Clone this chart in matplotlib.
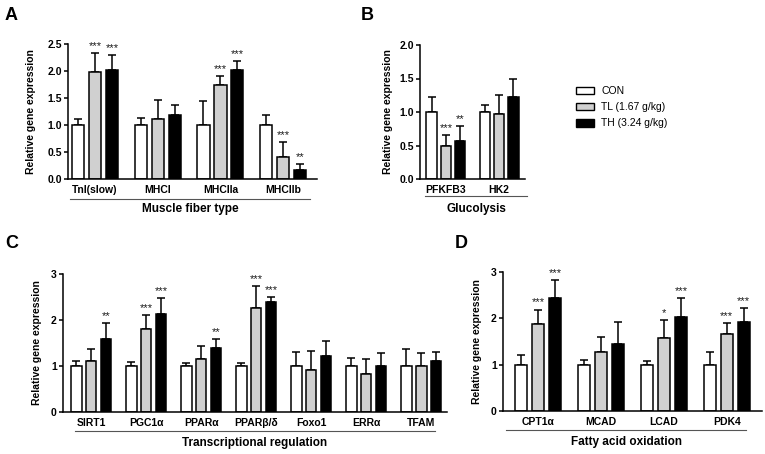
import matplotlib
matplotlib.use("Agg")
import matplotlib.pyplot as plt
from matplotlib.patches import Patch
import numpy as np

plt.rcParams['font.family'] = ['Liberation Sans', 'DejaVu Sans']

W, H = 765, 454

series_names = ["CON", "TL (1.67 g/kg)", "TH (3.24 g/kg)"]
series_colors = ["white", "#d0d0d0", "black"]

# Panel A
a_genes = ["TnI(slow)", "MHCI", "MHCIIa", "MHCIIb"]
a_con = [1.00, 1.00, 1.00, 1.00]
a_con_err = [0.12, 0.13, 0.44, 0.18]
a_tl = [1.98, 1.12, 1.75, 0.40]
a_tl_err = [0.35, 0.34, 0.15, 0.28]
a_th = [2.02, 1.19, 2.02, 0.17]
a_th_err = [0.28, 0.18, 0.16, 0.10]
a_tl_sig = ["***", "", "***", "***"]
a_th_sig = ["***", "", "***", "**"]

# Panel B
b_genes = ["PFKFB3", "HK2"]
b_con = [1.00, 1.00]
b_con_err = [0.23, 0.10]
b_tl = [0.50, 0.97]
b_tl_err = [0.15, 0.29]
b_th = [0.56, 1.23]
b_th_err = [0.23, 0.27]
b_tl_sig = ["***", ""]
b_th_sig = ["**", ""]

# Panel C
c_genes = ["SIRT1", "PGC1α", "PPARα", "PPARβ/δ", "Foxo1", "ERRα", "TFAM"]
c_con = [1.00, 1.00, 1.00, 1.00, 1.00, 1.00, 1.00]
c_con_err = [0.10, 0.09, 0.07, 0.07, 0.30, 0.18, 0.38]
c_tl = [1.11, 1.80, 1.16, 2.27, 0.92, 0.83, 0.99]
c_tl_err = [0.25, 0.31, 0.28, 0.47, 0.41, 0.32, 0.29]
c_th = [1.58, 2.13, 1.40, 2.39, 1.22, 1.00, 1.10]
c_th_err = [0.35, 0.34, 0.18, 0.10, 0.32, 0.29, 0.20]
c_tl_sig = ["", "***", "", "***", "", "", ""]
c_th_sig = ["**", "***", "**", "***", "", "", ""]

# Panel D
d_genes = ["CPT1α", "MCAD", "LCAD", "PDK4"]
d_con = [1.00, 1.00, 1.00, 1.00]
d_con_err = [0.21, 0.11, 0.07, 0.27]
d_tl = [1.87, 1.27, 1.57, 1.66]
d_tl_err = [0.32, 0.33, 0.39, 0.24]
d_th = [2.43, 1.44, 2.03, 1.92]
d_th_err = [0.40, 0.48, 0.40, 0.30]
d_tl_sig = ["***", "", "*", "***"]
d_th_sig = ["***", "", "***", "***"]

fig = plt.figure(figsize=(W / 100, H / 100), dpi=100)


def add_ax(x0, x1, y0, y1):
    return fig.add_axes([x0 / W, 1 - y1 / H, (x1 - x0) / W, (y1 - y0) / H])


def panel(ax, genes, vals, errs, sigs, ylim, yticks, yfmt, xlim, group_label,
          letter, letter_xy, ylabel_x, line_x, label_y_off=-0.18, line_y=-0.145):
    x = np.arange(len(genes))
    pitch, width = 0.27, 0.195
    for i, (v, e, col) in enumerate(zip(vals, errs, series_colors)):
        pos = x + (i - 1) * pitch
        ax.bar(pos, v, width=width, color=col, edgecolor="black", linewidth=1.1, zorder=2)
        ax.errorbar(pos, v, yerr=[np.zeros(len(v)), e], fmt="none", ecolor="black",
                    elinewidth=1.1, capsize=2.8, capthick=1.1, zorder=1)
        if sigs[i] is not None:
            for p, vv, ee, s in zip(pos, v, e, sigs[i]):
                if s:
                    ax.annotate(s, (p, vv + ee), xytext=(0, 1.5), textcoords="offset points",
                                ha="center", va="bottom", fontsize=8, color="#1a1a1a")
    ax.set_xlim(*xlim)
    ax.set_ylim(*ylim)
    ax.set_yticks(yticks)
    ax.set_yticklabels([yfmt.format(t) for t in yticks], fontsize=7.5, fontweight="bold")
    ax.set_xticks(x)
    ax.set_xticklabels(genes, fontsize=7.5, fontweight="bold")
    ax.tick_params(axis="x", length=0, pad=4)
    ax.tick_params(axis="y", length=3, width=1.1, direction="out", pad=1.5)
    for s in ["top", "right"]:
        ax.spines[s].set_visible(False)
    for s in ["left", "bottom"]:
        ax.spines[s].set_linewidth(1.1)
    ax.set_ylabel("Relative gene expression", fontsize=7.5, fontweight="bold")
    ax.yaxis.set_label_coords(ylabel_x, 0.5)
    ax.plot(line_x, [line_y, line_y], transform=ax.transAxes, color="#555555",
            linewidth=0.8, clip_on=False)
    ax.text(np.mean(line_x), label_y_off, group_label, transform=ax.transAxes,
            ha="center", va="top", fontsize=8.5, fontweight="bold")
    fig.text(letter_xy[0] / W, 1 - letter_xy[1] / H, letter, fontsize=13,
             fontweight="bold", ha="left", va="center")


axA = add_ax(68, 317, 44, 179)
panel(axA, a_genes, [a_con, a_tl, a_th], [a_con_err, a_tl_err, a_th_err],
      [None, a_tl_sig, a_th_sig], (0, 2.5), [0, 0.5, 1.0, 1.5, 2.0, 2.5], "{:.1f}",
      (-0.43, 3.54), "Muscle fiber type", "A", (5, 15), -0.128, [0.01, 0.97],
      label_y_off=-0.18, line_y=-0.148)

axB = add_ax(420, 525, 45, 179)
panel(axB, b_genes, [b_con, b_tl, b_th], [b_con_err, b_tl_err, b_th_err],
      [None, b_tl_sig, b_th_sig], (0, 2.0), [0, 0.5, 1.0, 1.5, 2.0], "{:.1f}",
      (-0.49, 1.49), "Glucolysis", "B", (361, 15), -0.257, [0.05, 1.02],
      label_y_off=-0.18, line_y=-0.125)

axC = add_ax(63, 447, 274, 412)
panel(axC, c_genes, [c_con, c_tl, c_th], [c_con_err, c_tl_err, c_th_err],
      [None, c_tl_sig, c_th_sig], (0, 3), [0, 1, 2, 3], "{:.0f}",
      (-0.51, 6.47), "Transcriptional regulation", "C", (5, 243), -0.055, [0.03, 0.97],
      label_y_off=-0.18, line_y=-0.14)

axD = add_ax(503, 762, 272, 411)
panel(axD, d_genes, [d_con, d_tl, d_th], [d_con_err, d_tl_err, d_th_err],
      [None, d_tl_sig, d_th_sig], (0, 3), [0, 1, 2, 3], "{:.0f}",
      (-0.56, 3.56), "Fatty acid oxidation", "D", (455, 243), -0.081, [0.01, 0.94],
      label_y_off=-0.18, line_y=-0.14)

handles = [Patch(facecolor=c, edgecolor="black", linewidth=1.0, label=n)
           for c, n in zip(series_colors, series_names)]
fig.legend(handles=handles, loc="upper left", bbox_to_anchor=(576 / W, 1 - 86 / H),
           frameon=False, fontsize=7.5, handlelength=1.7, handleheight=0.7,
           handletextpad=0.7, labelspacing=0.6, borderaxespad=0, borderpad=0)

fig.savefig("out.png", dpi=100, facecolor="white")
